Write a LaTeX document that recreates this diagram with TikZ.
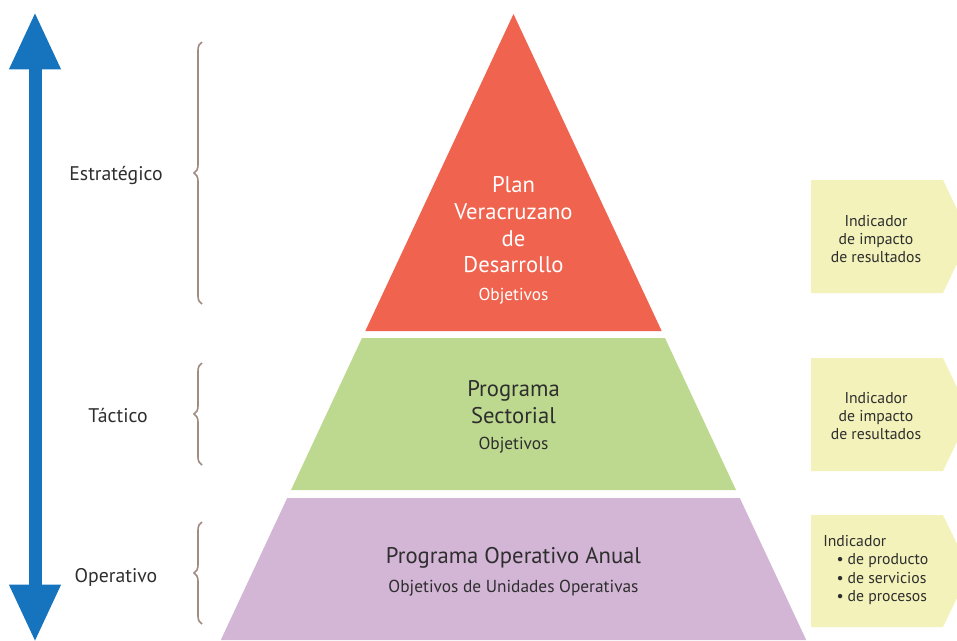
\documentclass[tikz,border=0pt]{standalone}
\usepackage{fontspec}
\setmainfont{PT Sans}
\usepackage{xcolor}
\usetikzlibrary{arrows.meta, positioning, decorations.pathreplacing}

\definecolor{pyrred}{HTML}{F0634E}
\definecolor{pyrgreen}{HTML}{BDD98F}
\definecolor{pyrpurple}{HTML}{D3B5D6}
\definecolor{indyellow}{HTML}{F2F2BA}
\definecolor{axisblue}{HTML}{1673BD}
\definecolor{bracebrown}{HTML}{A08C80}
\definecolor{txtgray}{HTML}{2E2E2E}

\begin{document}
\begin{tikzpicture}[
  x=0.75pt, y=-0.75pt,
  big/.style={font=\fontsize{17}{20}\selectfont, align=center, text=txtgray, inner sep=0pt},
  small/.style={font=\fontsize{13}{15}\selectfont, align=center, text=txtgray, inner sep=0pt},
  level/.style={font=\fontsize{14.8}{17}\selectfont, text=txtgray, inner sep=0pt},
  indtext/.style={font=\fontsize{11.8}{13.8}\selectfont, text=txtgray, inner sep=0pt},
  lvlbrace/.style={draw=bracebrown, line width=1.2pt, decorate, decoration={brace, amplitude=6pt}}
]
  \clip (0,0) rectangle (957,640);

  % vertical axis
  \coordinate (top) at (35,12);
  \coordinate (bottom) at (35,642);
  \draw[axisblue, line width=9.75pt, {Triangle[width=36pt, length=43pt]}-{Triangle[width=36pt, length=43pt]}] (bottom) -- (top);

  % pyramid
  \coordinate (apex) at (513.5,14);
  \fill[pyrred] (apex) -- (661.7,331) -- (365.3,331) -- cycle;
  \fill[pyrgreen] (362,338) -- (665,338) -- (736,490) -- (291,490) -- cycle;
  \fill[pyrpurple] (287.2,498) -- (739.8,498) -- (806.2,640) -- (220.8,640) -- cycle;

  \node[big, text=white] (plan) at (513.5,225) {Plan\\Veracruzano\\de\\Desarrollo};
  \node[small, text=white, below=10.5pt of plan] (planobj) {Objetivos};
  \node[big] (sector) at (513.5,402) {Programa\\Sectorial};
  \node[small, below=10pt of sector] (sectorobj) {Objetivos};
  \node[big] (poa) at (513.5,558) {Programa Operativo Anual};
  \node[small, below=8pt of poa] (poaobj) {Objetivos de Unidades Operativas};

  % levels
  \node[level] (estr) at (116,175) {Estratégico};
  \node[level] (tact) at (118,416) {Táctico};
  \node[level] (oper) at (116,577) {Operativo};
  \draw[lvlbrace] (202,304) -- (202,42);
  \draw[lvlbrace] (202,465) -- (202,363);
  \draw[lvlbrace] (202,624) -- (202,522);

  % indicator boxes
  \foreach \t/\b in {180/293, 358/471, 515/627}
    \fill[indyellow] (811,\t) -- (943,\t) -- (970,{(\t+\b)/2}) -- (943,\b) -- (811,\b) -- cycle;

  \node[indtext, align=center] (ind1) at (876,239) {Indicador\\de impacto\\de resultados};
  \node[indtext, align=center] (ind2) at (876,416) {Indicador\\de impacto\\de resultados};
  \node[indtext, align=left, anchor=north west] (ind3) at (823,535)
    {Indicador\\\hspace{0.85em}\textbullet\hspace{0.25em}de producto\\\hspace{0.85em}\textbullet\hspace{0.25em}de servicios\\\hspace{0.85em}\textbullet\hspace{0.25em}de procesos};
\end{tikzpicture}
\end{document}
